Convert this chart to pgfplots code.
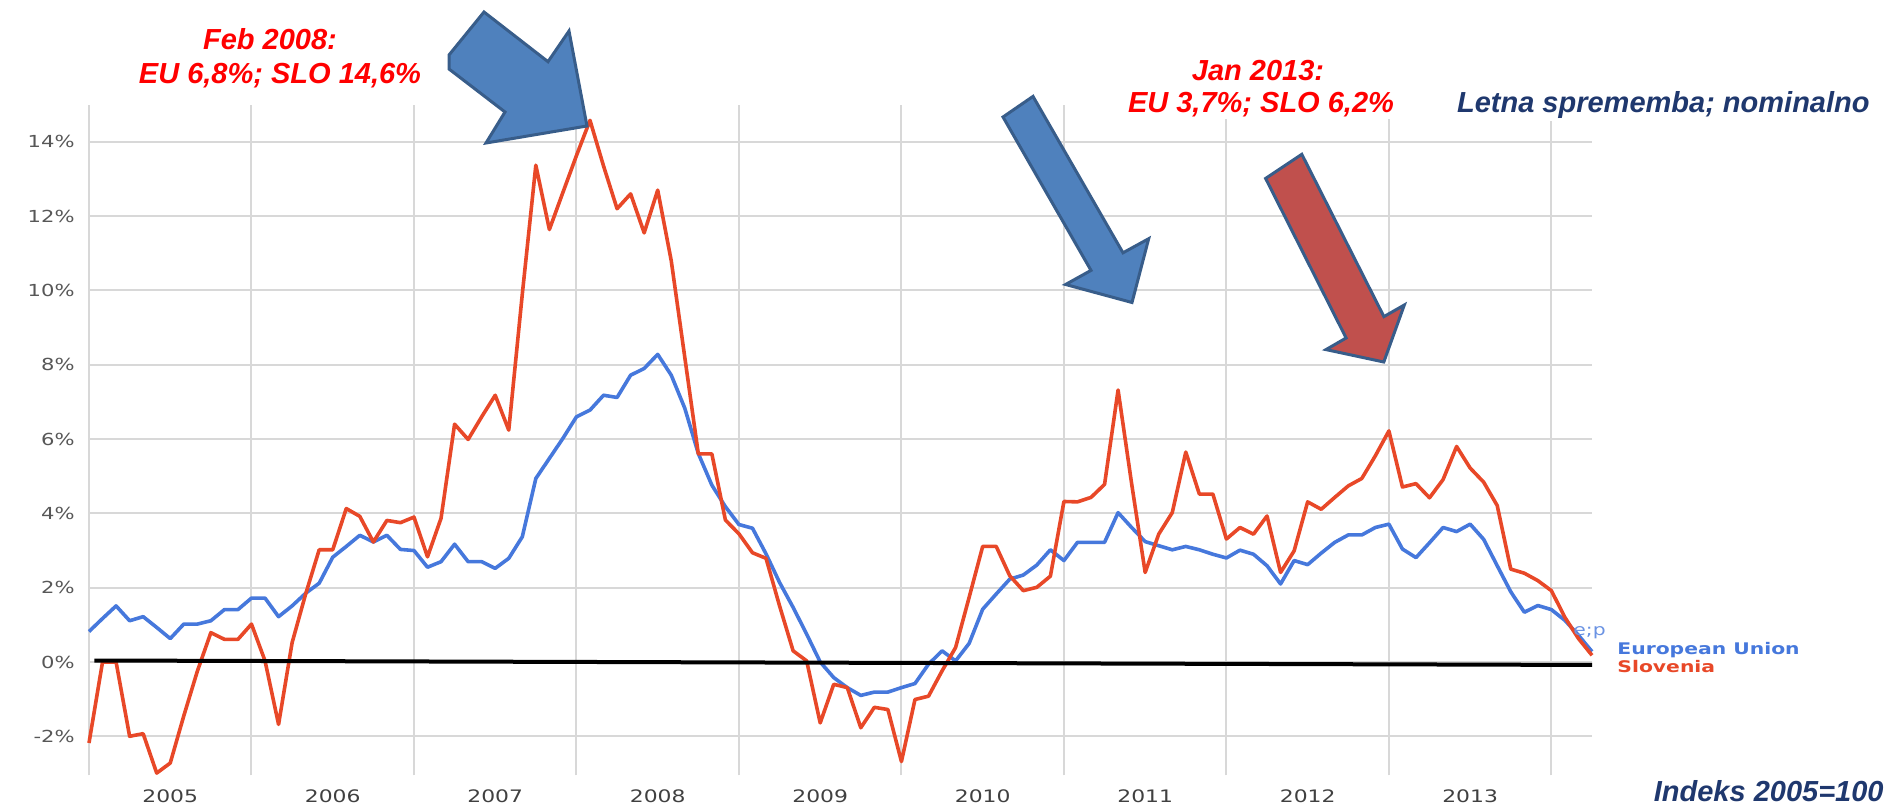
\documentclass[border=0pt]{standalone}
\usepackage{fontspec}
\setmainfont{Liberation Sans}
\newfontfamily\chartfont[FakeStretch=1.27]{DejaVu Sans}
\usepackage{pgfplots}
\pgfplotsset{compat=1.18}
\definecolor{eublue}{RGB}{70,120,220}
\definecolor{slored}{RGB}{232,72,40}
\definecolor{gridgray}{RGB}{216,216,216}
\definecolor{annred}{RGB}{255,0,0}
\definecolor{navytext}{RGB}{31,56,110}
\definecolor{arrowblue}{RGB}{79,129,189}
\definecolor{arrowred}{RGB}{192,80,77}
\definecolor{arrowedge}{RGB}{56,93,138}
\pgfplotstableread{
m v
0 0.82
1 1.17
2 1.51
3 1.11
4 1.22
5 0.93
6 0.63
7 1.02
8 1.02
9 1.11
10 1.41
11 1.41
12 1.72
13 1.72
14 1.22
15 1.51
16 1.85
17 2.12
18 2.82
19 3.11
20 3.41
21 3.23
22 3.41
23 3.03
24 3.00
25 2.55
26 2.70
27 3.17
28 2.70
29 2.70
30 2.52
31 2.79
32 3.37
33 4.94
34 5.48
35 6.02
36 6.60
37 6.78
38 7.18
39 7.12
40 7.72
41 7.90
42 8.28
43 7.72
44 6.83
45 5.61
46 4.76
47 4.18
48 3.70
49 3.60
50 2.91
51 2.14
52 1.47
53 0.75
54 0.00
55 -0.42
56 -0.69
57 -0.90
58 -0.81
59 -0.81
60 -0.69
61 -0.58
62 -0.06
63 0.30
64 0.03
65 0.50
66 1.42
67 1.83
68 2.23
69 2.34
70 2.61
71 3.02
72 2.73
73 3.22
74 3.22
75 3.22
76 4.02
77 3.62
78 3.24
79 3.13
80 3.02
81 3.11
82 3.02
83 2.90
84 2.80
85 3.01
86 2.90
87 2.59
88 2.10
89 2.73
90 2.62
91 2.93
92 3.22
93 3.42
94 3.42
95 3.62
96 3.71
97 3.04
98 2.81
99 3.21
100 3.62
101 3.51
102 3.71
103 3.30
104 2.59
105 1.89
106 1.34
107 1.52
108 1.41
109 1.12
110 0.72
111 0.28
}\eu
\pgfplotstableread{
m v
0 -2.18
1 0.00
2 0.00
3 -2.00
4 -1.93
5 -2.99
6 -2.72
7 -1.45
8 -0.25
9 0.79
10 0.61
11 0.61
12 1.02
13 0.03
14 -1.68
15 0.52
16 1.83
17 3.02
18 3.02
19 4.13
20 3.92
21 3.23
22 3.81
23 3.75
24 3.90
25 2.83
26 3.87
27 6.40
28 5.99
29 6.60
30 7.18
31 6.24
32 9.90
33 13.37
34 11.64
35 12.64
36 13.63
37 14.58
38 13.35
39 12.20
40 12.60
41 11.55
42 12.70
43 10.80
44 8.20
45 5.60
46 5.60
47 3.82
48 3.45
49 2.94
50 2.79
51 1.51
52 0.30
53 0.03
54 -1.64
55 -0.60
56 -0.69
57 -1.77
58 -1.22
59 -1.28
60 -2.68
61 -1.01
62 -0.92
63 -0.24
64 0.39
65 1.74
66 3.11
67 3.11
68 2.32
69 1.92
70 2.01
71 2.31
72 4.32
73 4.31
74 4.43
75 4.78
76 7.32
77 4.80
78 2.41
79 3.44
80 4.02
81 5.65
82 4.52
83 4.52
84 3.31
85 3.62
86 3.44
87 3.93
88 2.41
89 2.99
90 4.31
91 4.11
92 4.43
93 4.74
94 4.94
95 5.55
96 6.22
97 4.71
98 4.80
99 4.42
100 4.91
101 5.80
102 5.22
103 4.84
104 4.21
105 2.50
106 2.39
107 2.19
108 1.92
109 1.20
110 0.63
111 0.18
}\slo
\begin{document}
\begin{tikzpicture}
\useasboundingbox (0,0) rectangle (945pt,402.5pt);
\begin{axis}[
  at={(44.5pt,14.85pt)}, anchor=south west,
  scale only axis, width=751.5pt, height=335.3pt,
  xmin=0, xmax=111, ymin=-3.05, ymax=15,
  axis line style={draw=none},
  major tick length=0pt,
  xtick={0,12,...,108}, xticklabels={},
  extra x ticks={6,18,...,102},
  extra x tick labels={2005,2006,2007,2008,2009,2010,2011,2012,2013},
  extra x tick style={grid=none, tick label style={anchor=base, yshift=-13.5pt, inner sep=0pt, font=\chartfont\fontsize{8.6}{9}\selectfont, text=black!75}},
  ytick={-2,0,...,14},
  yticklabels={-2\%,0\%,2\%,4\%,6\%,8\%,10\%,12\%,14\%},
  yticklabel style={anchor=east, inner sep=0pt, xshift=-7pt, font=\chartfont\fontsize{8.3}{9}\selectfont, text=black!66},
  grid=major,
  major grid style={gridgray, line width=1pt},
  clip=false,
]
\addplot[eublue, line width=1.8pt, line join=round] table[x=m,y=v] {\eu};
\addplot[slored, line width=1.8pt, line join=round] table[x=m,y=v] {\slo};
\addplot[black, line width=2pt] coordinates {(0.4,0.04) (111,-0.08)};
\end{axis}
\begin{scope}[x=0.5pt, y=-0.5pt, yshift=402.5pt]
  % arrows
  \filldraw[fill=arrowblue, draw=arrowedge, line width=1.5pt, line join=miter]
    (484,12) -- (548,61.7) -- (569,31) -- (587,126) -- (486,143) -- (505,112) -- (449,69) -- (449,55) -- cycle;
  \filldraw[fill=arrowblue, draw=arrowedge, line width=1.5pt, line join=miter]
    (1033,96.4) -- (1123,252.8) -- (1148.7,238.7) -- (1132,302.5) -- (1065.6,284.5) -- (1091,270.4) -- (1003,117) -- cycle;
  \filldraw[fill=arrowred, draw=arrowedge, line width=1.5pt, line join=miter]
    (1301.8,154.3) -- (1383.9,316.6) -- (1404.3,305) -- (1383.8,362) -- (1326,349.6) -- (1346.1,338) -- (1265.6,178.4) -- cycle;
  % annotations
  \tikzset{ann/.style={font=\bfseries\itshape\fontsize{14.5}{17}\selectfont, inner sep=0pt, anchor=base}}
  \node[ann, text=annred] at (270,50) {Feb 2008:};
  \node[ann, text=annred] at (280,83.5) {EU 6,8\%; SLO 14,6\%};
  \node[ann, text=annred, fill=white, inner sep=1pt] at (1258,81) {Jan 2013:};
  \node[ann, text=annred, fill=white, inner sep=1pt] at (1261,113) {EU 3,7\%; SLO 6,2\%};
  \node[ann, text=navytext, fill=white, inner sep=1pt, anchor=base east] at (1872,113) {Letna sprememba; nominalno};
  \node[ann, text=navytext, anchor=base east] at (1884,801) {Indeks 2005=100};
  % legend
  \node[anchor=west, inner sep=0pt, font=\chartfont\bfseries\fontsize{8}{9}\selectfont, text=eublue] at (1617,650) {European Union};
  \node[anchor=west, inner sep=0pt, font=\chartfont\bfseries\fontsize{8}{9}\selectfont, text=slored] at (1617,667) {Slovenia};
  \node[anchor=west, inner sep=0pt, font=\chartfont\fontsize{8}{9}\selectfont, text=eublue!80!white] at (1573,633) {e;p};
\end{scope}
\end{tikzpicture}
\end{document}
